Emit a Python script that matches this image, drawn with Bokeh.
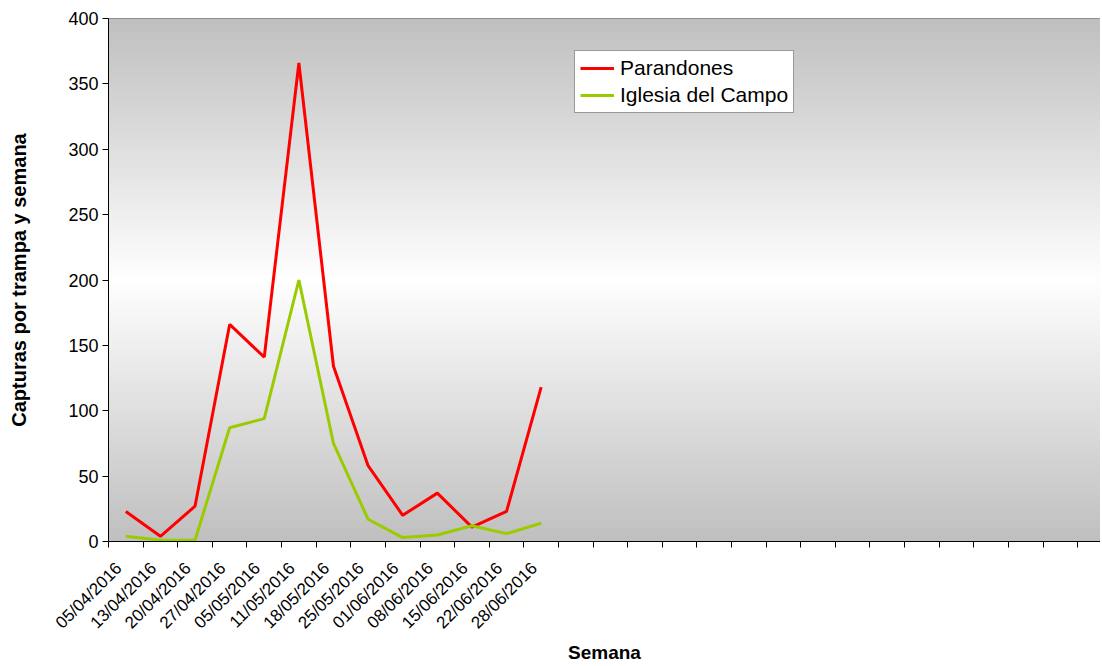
import numpy as np
from bokeh.plotting import figure
from bokeh.models import Range1d, FixedTicker, Legend, LegendItem
from bokeh.embed import file_html
from bokeh.resources import INLINE
import math

weeks = ["05/04/2016", "13/04/2016", "20/04/2016", "27/04/2016", "05/05/2016",
         "11/05/2016", "18/05/2016", "25/05/2016", "01/06/2016", "08/06/2016",
         "15/06/2016", "22/06/2016", "28/06/2016"]
parandones = [23, 4, 27, 166, 141, 366, 134, 58, 20, 37, 11, 23, 118]
iglesia = [4, 1, 1, 87, 94, 200, 75, 17, 3, 5, 12, 6, 14]
n_slots = 29
y_ticks = [0, 50, 100, 150, 200, 250, 300, 350, 400]

FONT = "Liberation Sans"

p = figure(width=1100, height=666, output_backend="svg", toolbar_location=None,
           x_range=Range1d(0, 28.66), y_range=Range1d(0, 400),
           min_border_left=108, min_border_right=0, min_border_top=18, min_border_bottom=125)
p.background_fill_color = "white"
p.border_fill_color = "white"
p.outline_line_color = "#7f7f7f"
p.outline_line_width = 1
p.grid.visible = False

# gradient background (gray - white - gray)
N = 200
t = np.linspace(0, 1, N)
g = (255 - (255 - 192) * np.abs(t - 0.5) * 2).astype(np.uint32)
img = np.zeros((N, 1), dtype=np.uint32)
view = img.view(dtype=np.uint8).reshape((N, 1, 4))
view[:, 0, 0] = g
view[:, 0, 1] = g
view[:, 0, 2] = g
view[:, 0, 3] = 255
p.image_rgba(image=[img], x=0, y=0, dw=n_slots, dh=400, level="image")

xs = [i + 0.5 for i in range(len(weeks))]
r1 = p.line(xs, parandones, line_color="#ff0000", line_width=3)
r2 = p.line(xs, iglesia, line_color="#99cc00", line_width=3)

# axes: label anchors slightly left of each category centre, tick marks at slot bounds
label_pos = [i + 0.3 for i in range(len(weeks))]
bounds = list(range(0, n_slots + 1))
p.xaxis.ticker = FixedTicker(ticks=label_pos, minor_ticks=bounds)
p.xaxis.major_label_overrides = {c: w for c, w in zip(label_pos, weeks)}
p.xaxis.major_tick_out = 0
p.xaxis.major_tick_in = 0
p.xaxis.minor_tick_out = 6
p.xaxis.minor_tick_in = 0
p.xaxis.minor_tick_line_color = "black"
p.xaxis.major_label_orientation = math.pi / 4
p.xaxis.major_label_text_font = FONT
p.xaxis.major_label_text_font_size = "17px"
p.xaxis.major_label_text_color = "black"
p.xaxis.major_label_standoff = 18
p.xaxis.axis_line_color = "black"
p.xaxis.axis_label = "Semana"
p.xaxis.axis_label_text_font = FONT
p.xaxis.axis_label_text_font_style = "bold"
p.xaxis.axis_label_text_font_size = "19px"
p.xaxis.axis_label_text_color = "black"
p.xaxis.axis_label_standoff = 0

p.yaxis.ticker = FixedTicker(ticks=y_ticks)
p.yaxis.minor_tick_line_color = None
p.yaxis.major_tick_out = 6
p.yaxis.major_tick_in = 0
p.yaxis.major_label_text_font = FONT
p.yaxis.major_label_text_font_size = "18px"
p.yaxis.major_label_text_color = "black"
p.yaxis.major_label_standoff = 4
p.yaxis.axis_line_color = "black"
p.yaxis.axis_label = "Capturas por trampa y semana"
p.yaxis.axis_label_text_font = FONT
p.yaxis.axis_label_text_font_style = "bold"
p.yaxis.axis_label_text_font_size = "20px"
p.yaxis.axis_label_text_color = "black"
p.yaxis.axis_label_standoff = 35

legend = Legend(items=[LegendItem(label="Parandones", renderers=[r1]),
                       LegendItem(label="Iglesia del Campo", renderers=[r2])],
                location=(466, 428), orientation="vertical")
legend.label_text_font = FONT
legend.label_text_font_size = "21px"
legend.label_text_color = "black"
legend.glyph_width = 34
legend.glyph_height = 22
legend.label_height = 22
legend.spacing = 3
legend.padding = 5
legend.margin = 0
legend.label_standoff = 6
legend.border_line_color = "#333333"
legend.border_line_width = 1
legend.background_fill_color = "white"
legend.background_fill_alpha = 1
p.add_layout(legend, "center")

open("out.html", "w").write(file_html(p, INLINE))
